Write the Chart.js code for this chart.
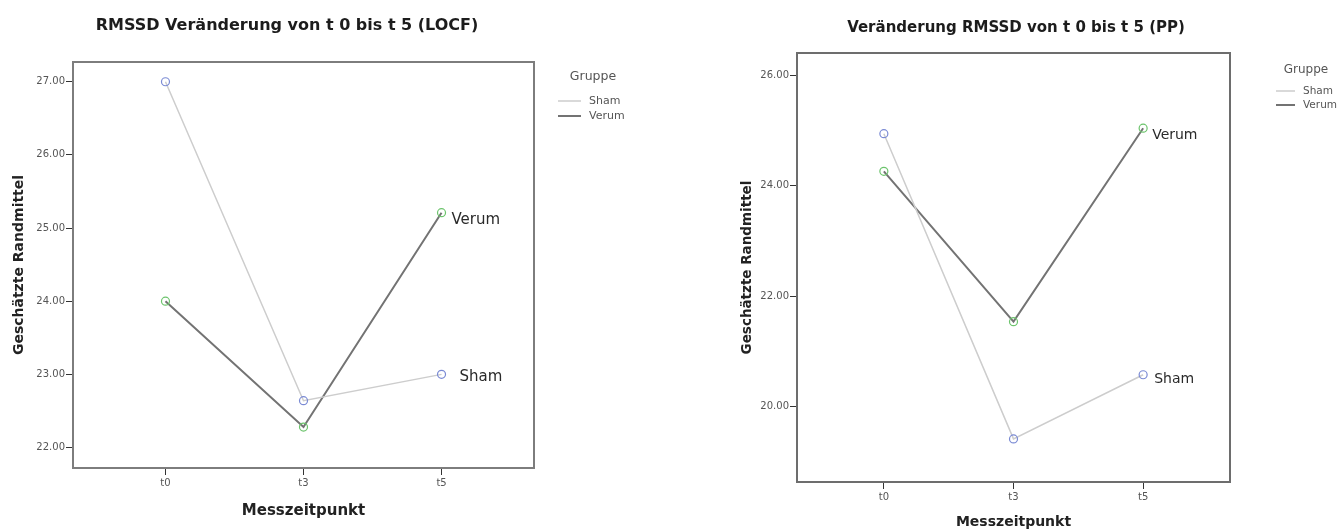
<!DOCTYPE html>
<html><head><meta charset="utf-8">
<script src="https://cdn.jsdelivr.net/npm/chart.js@4.4.1/dist/chart.umd.min.js"></script>
<style>
html,body{margin:0;padding:0;background:#fff;}
#wrap{position:relative;width:1341px;height:531px;overflow:hidden;background:#fff}
.box{position:absolute;top:0;height:531px}
</style></head><body>
<div id="wrap">
  <div class="box" style="left:0;width:680px"><canvas id="c1"></canvas></div>
  <div class="box" style="left:680px;width:661px"><canvas id="c2"></canvas></div>
</div>
<script>
// ---- data ----
const categories = ['t0', 't3', 't5'];
const groups = ['Sham', 'Verum'];
const locfSham  = [27.00, 22.64, 23.00];
const locfVerum = [24.00, 22.28, 25.21];
const ppSham    = [24.94, 19.42, 20.58];
const ppVerum   = [24.26, 21.54, 25.04];
const locfTicks = [22, 23, 24, 25, 26, 27];
const ppTicks   = [20, 22, 24, 26];

const FONT = '"DejaVu Sans", "Liberation Sans", Arial, sans-serif';
const SHAM_LINE = '#cdcdcd', VERUM_LINE = '#737373';
const SHAM_PT = '#7a8ad4', VERUM_PT = '#6cc46c';

const decor = {
  id: 'decor',
  beforeDatasetsDraw(chart, args, o) {
    const {ctx, chartArea: a} = chart;
    ctx.save();
    ctx.strokeStyle = o.frameColor; ctx.lineWidth = 2;
    ctx.strokeRect(a.left, a.top, a.right - a.left, a.bottom - a.top);
    ctx.restore();
  },
  afterDraw(chart, args, o) {
    const ctx = chart.ctx;
    ctx.save();
    ctx.textBaseline = 'middle';
    // title
    ctx.font = 'bold ' + o.titleSize + 'px ' + FONT;
    ctx.fillStyle = '#1c1c1c'; ctx.textAlign = 'center';
    ctx.fillText(o.title, o.titleX, o.titleY);
    // end labels
    chart.data.datasets.forEach((ds, i) => {
      const meta = chart.getDatasetMeta(i);
      const pt = meta.data[meta.data.length - 1];
      const off = o.endOffsets[i];
      ctx.font = o.endSize + 'px ' + FONT;
      ctx.textAlign = 'left'; ctx.fillStyle = '#2a2a2a';
      ctx.fillText(ds.label, pt.x + off[0], pt.y + off[1]);
    });
    // legend
    const L = o.legend;
    ctx.font = L.titleSize + 'px ' + FONT;
    ctx.fillStyle = '#555'; ctx.textAlign = 'center';
    ctx.fillText(L.title, L.titleX, L.titleY);
    chart.data.datasets.forEach((ds, i) => {
      const y = L.rows[i];
      ctx.strokeStyle = ds.borderColor; ctx.lineWidth = ds.borderWidth;
      ctx.beginPath(); ctx.moveTo(L.x1, y); ctx.lineTo(L.x2, y); ctx.stroke();
      ctx.font = L.itemSize + 'px ' + FONT;
      ctx.fillStyle = '#555'; ctx.textAlign = 'left';
      ctx.fillText(ds.label, L.textX, y);
    });
    ctx.restore();
  }
};

function makeChart(id, cfg) {
  const ds = [
    {label: groups[0], data: categories.map((c, i) => ({x: i, y: cfg.sham[i]})),
     borderColor: SHAM_LINE, borderWidth: 1.5, pointBorderColor: SHAM_PT},
    {label: groups[1], data: categories.map((c, i) => ({x: i, y: cfg.verum[i]})),
     borderColor: VERUM_LINE, borderWidth: 2, pointBorderColor: VERUM_PT}
  ].map(d => Object.assign(d, {
    pointRadius: 4, pointBorderWidth: 1.2, pointBackgroundColor: 'rgba(255,255,255,0)',
    tension: 0, fill: false
  }));
  return new Chart(document.getElementById(id), {
    type: 'line',
    data: {datasets: ds},
    plugins: [decor],
    options: {
      responsive: true, maintainAspectRatio: false, animation: false, devicePixelRatio: 1,
      layout: {padding: cfg.padding},
      plugins: {
        legend: {display: false}, tooltip: {enabled: false}, title: {display: false},
        decor: cfg.decor
      },
      scales: {
        x: {
          type: 'linear', min: -0.67, max: 2.67,
          afterBuildTicks: s => { s.ticks = categories.map((c, i) => ({value: i})); },
          afterFit: s => { s.height = cfg.xHeight; },
          border: {display: false},
          grid: {drawOnChartArea: false, drawTicks: true, tickLength: 7, tickColor: '#333', tickWidth: 1},
          ticks: {color: '#555', font: {family: FONT, size: 10}, padding: 2, maxRotation: 0,
                  callback: v => categories[v]},
          title: {display: true, text: 'Messzeitpunkt', color: '#222',
                  font: {family: FONT, size: cfg.xTitleSize, weight: 'bold'}, padding: 0}
        },
        y: {
          type: 'linear', min: cfg.yMin, max: cfg.yMax,
          afterBuildTicks: s => { s.ticks = cfg.ticks.map(v => ({value: v})); },
          afterFit: s => { s.width = cfg.yWidth; },
          border: {display: false},
          grid: {drawOnChartArea: false, drawTicks: true, tickLength: 7, tickColor: '#333', tickWidth: 1},
          ticks: {color: '#555', font: {family: FONT, size: 10}, padding: 1,
                  callback: v => Number(v).toFixed(2)},
          title: {display: true, text: 'Geschätzte Randmittel', color: '#222',
                  font: {family: FONT, size: cfg.yTitleSize, weight: 'bold'}, padding: 0}
        }
      }
    }
  });
}

makeChart('c1', {
  sham: locfSham, verum: locfVerum, ticks: locfTicks,
  yMin: 21.72, yMax: 27.27,
  padding: {left: 11, top: 62, right: 146, bottom: 11},
  yWidth: 62, xHeight: 52, xTitleSize: 15, yTitleSize: 14,
  decor: {
    frameColor: '#7d7d7d',
    title: 'RMSSD Veränderung von t 0 bis t 5 (LOCF)', titleSize: 16, titleX: 287, titleY: 26,
    endSize: 15, endOffsets: [[18, 3], [10, 7]],
    legend: {title: 'Gruppe', titleSize: 12.5, titleX: 593, titleY: 77,
             x1: 558, x2: 581, textX: 589, rows: [101, 116], itemSize: 11}
  }
});

makeChart('c2', {
  sham: ppSham, verum: ppVerum, ticks: ppTicks,
  yMin: 18.64, yMax: 26.40,
  padding: {left: 59, top: 53, right: 111, bottom: 0},
  yWidth: 58, xHeight: 49, xTitleSize: 14, yTitleSize: 13.5,
  decor: {
    frameColor: '#6d6d6d',
    title: 'Veränderung RMSSD von t 0 bis t 5 (PP)', titleSize: 15, titleX: 336, titleY: 28,
    endSize: 14, endOffsets: [[11, 5], [9, 7]],
    legend: {title: 'Gruppe', titleSize: 12, titleX: 626, titleY: 70,
             x1: 596, x2: 615, textX: 623, rows: [91, 105], itemSize: 10.5}
  }
});
</script>
</body></html>
